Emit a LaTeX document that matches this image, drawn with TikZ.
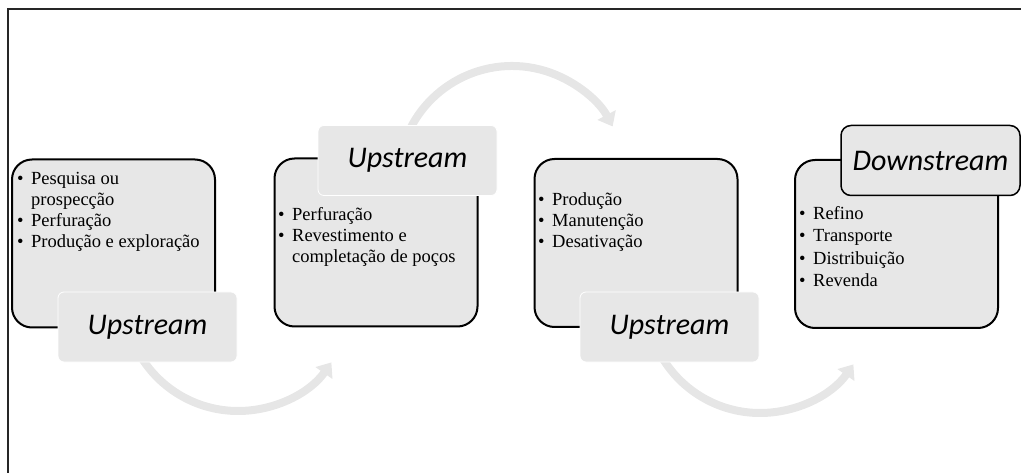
\documentclass[tikz,border=0pt]{standalone}
\usepackage{fontspec}
\setmainfont{Liberation Serif}
\newfontfamily\carlito{Carlito}
\usetikzlibrary{arrows.meta}
\definecolor{boxgray}{HTML}{E7E7E7}
\definecolor{arcgray}{HTML}{E6E6E6}
\definecolor{framegray}{HTML}{262626}
\newcommand\bitem{\makebox[14pt][l]{\textbullet}}
\newcommand\bcont{\hspace*{14pt}}
\begin{document}
\begin{tikzpicture}[x=1pt,y=-1pt,
  stagebox/.style={draw=black, line width=2pt, fill=boxgray, rounded corners=20pt, inner sep=0pt, minimum width=203pt, minimum height=168pt},
  tagbox/.style={fill=boxgray, draw=white, line width=0.8pt, rounded corners=6pt, minimum width=179pt, minimum height=70pt, inner sep=0pt, font=\carlito\itshape\fontsize{30}{36}\selectfont},
  itemtext/.style={anchor=north west, inner sep=0pt, align=left, font=\fontsize{18.5}{21}\selectfont},
  flow/.style={draw=arcgray, line width=8pt, -{Triangle[width=20pt,length=13pt]}}
]
\useasboundingbox (0,0) rectangle (1021,473);
\draw[line width=2.5pt, framegray] (8,473) -- (8,9) -- (1021,9);

% curved arrows (behind)
\coordinate (c1) at (238,297);
\coordinate (c2) at (512,180);
\coordinate (c3) at (760,299);
\draw[flow] ([shift={(150:114)}]c1) arc[start angle=150, end angle=35, radius=114];
\draw[flow] ([shift={(200:114)}]c2) arc[start angle=200, end angle=332, radius=114];
\draw[flow] ([shift={(150:114)}]c3) arc[start angle=150, end angle=35, radius=114];

% stage boxes
\node[stagebox] (b1) at (113.5,243.5) {};
\node[stagebox] (b2) at (376,242.5) {};
\node[stagebox] (b3) at (636,243) {};
\node[stagebox] (b4) at (896.5,244) {};

% texts
\node[itemtext] (t1) at (17,172) {\bitem Pesquisa ou\\\bcont prospecção\\\bitem Perfuração\\\bitem Produção e exploração};
\node[itemtext] (t2) at (278,207) {\bitem Perfuração\\\bitem Revestimento e\\\bcont completação de poços};
\node[itemtext] (t3) at (538,192) {\bitem Produção\\\bitem Manutenção\\\bitem Desativação};
\node[itemtext, font=\fontsize{18.5}{22.5}\selectfont] (t4) at (799,206) {\bitem Refino\\\bitem Transporte\\\bitem Distribuição\\\bitem Revenda};

% tags
\node[tagbox] (l1) at (147.5,327) {Upstream};
\node[tagbox] (l2) at (407.5,160.5) {Upstream};
\node[tagbox] (l3) at (669.5,327) {Upstream};
\node[tagbox, draw=black, line width=1.5pt, rounded corners=10pt] (l4) at (930.5,160.5) {Downstream};
\end{tikzpicture}
\end{document}
